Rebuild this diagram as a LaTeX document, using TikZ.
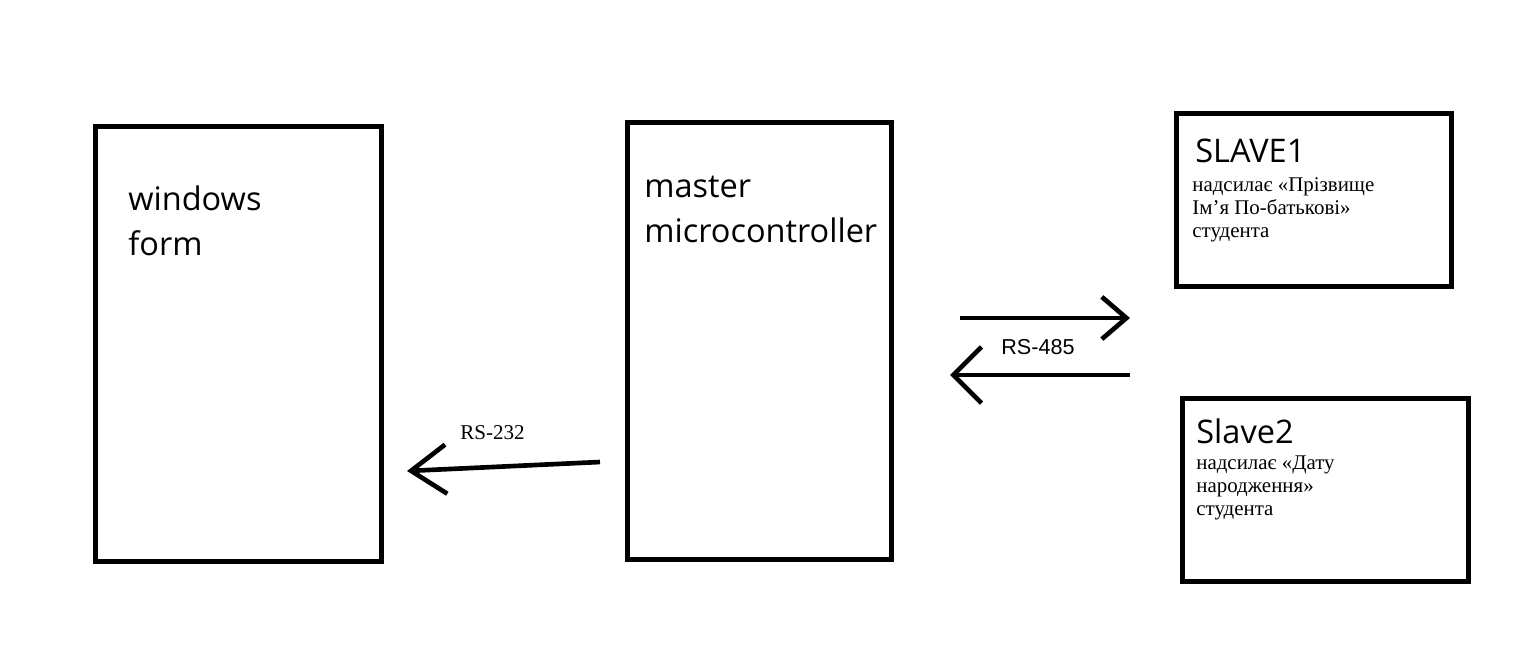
\documentclass[tikz,border=0pt]{standalone}
\usepackage{fontspec}
\setmainfont{Liberation Serif}
\newfontfamily\titlefont{Open Sans}
\newfontfamily\armfont{Liberation Sans}
\usetikzlibrary{arrows.meta}
\tikzset{
    box/.style={draw, line width=2.65pt, inner sep=0pt, anchor=north west},
    title/.style={font=\titlefont\fontsize{18.5}{25.2}\selectfont, align=left, anchor=base west, inner sep=0pt},
    note/.style={font=\fontsize{11.9}{12.9}\selectfont, align=left, anchor=base west, inner sep=0pt},
    bus/.style={line width=2.65pt, -{Straight Barb[length=#1]}},
    wire/.style={font=\fontsize{12}{14}\selectfont, anchor=base west, inner sep=0pt}
}
\begin{document}
\begin{tikzpicture}[x=0.02cm, y=-0.02cm]
    \useasboundingbox (0,0) rectangle (1533,653);

    \node[box, minimum width=5.72cm, minimum height=8.7cm] (form) at (93,124) {};
    \node[box, minimum width=5.28cm, minimum height=8.74cm] (master) at (625,120) {};
    \node[box, minimum width=5.5cm, minimum height=3.46cm] (slaveA) at (1174,111) {};
    \node[box, minimum width=5.72cm, minimum height=3.66cm] (slaveB) at (1180,396) {};

    \node[title] (formtxt) at (128,255) {windows\\form};
    \node[title] (mastertxt) at (644,242) {master\\microcontroller};
    \node[title] (slaveAtxt) at (1195,162) {SLAVE1};
    \node[note] (slaveAnote) at (1192,237) {надсилає «Прізвище\\Ім’я По-батькові»\\студента};
    \node[title] (slaveBtxt) at (1196,443) {Slave2};
    \node[note] (slaveBnote) at (1196,515) {надсилає «Дату\\народження»\\студента};

    \coordinate (a1) at (600,462);
    \coordinate (a2) at (407,471);
    \coordinate (b1) at (960,318);
    \coordinate (b2) at (1130,318);
    \coordinate (c1) at (1130,375);
    \coordinate (c2) at (950,375);
    \draw[bus={20pt, width=28pt}] (a1) -- (a2);
    \draw[bus={14pt, width=24pt}] (b1) -- (b2);
    \draw[bus={16pt, width=32pt}] (c1) -- (c2);

    \node[wire] (rs232) at (460,439) {RS-232};
    \node[wire, font=\armfont\fontsize{12.3}{14}\selectfont] (rs485) at (1001,354) {RS-485};
\end{tikzpicture}
\end{document}
